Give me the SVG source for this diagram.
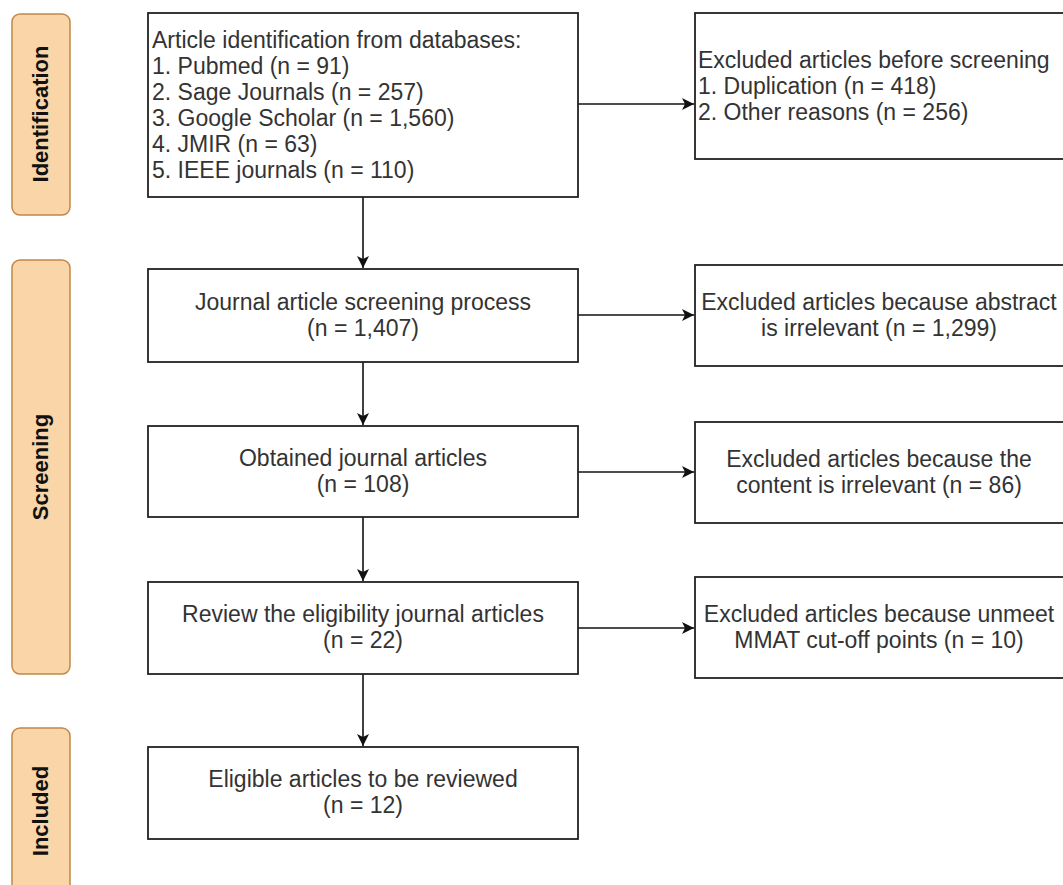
<svg xmlns="http://www.w3.org/2000/svg" width="1063" height="885" viewBox="0 0 1063 885">
<defs>
<style>
.pill{fill:#f9d5a7;stroke:#c0884a;stroke-width:1.5}
.pt{font-family:"Liberation Sans",Arial,sans-serif;font-weight:bold;font-size:22px;fill:#111;text-anchor:middle}
.box{fill:#fff;stroke:#222;stroke-width:1.8}
.t{font-family:"Liberation Sans",Arial,sans-serif;font-size:23px;fill:#333}
.c{text-anchor:middle}
.edge{fill:none;stroke:#111;stroke-width:1.6}
</style>
<marker id="arr" markerUnits="userSpaceOnUse" markerWidth="14" markerHeight="12" refX="12" refY="6" orient="auto">
<path d="M0,0 L12,6 L0,12 L3,6 Z" fill="#111"/>
</marker>
</defs>
<rect width="1063" height="885" fill="#fff"/>

<g id="lane-identification">
<rect class="pill" x="12" y="14" width="58" height="201" rx="8"/>
<text class="pt" transform="translate(48,114) rotate(-90)">Identification</text>
</g>
<g id="lane-screening">
<rect class="pill" x="12" y="260" width="58" height="414" rx="8"/>
<text class="pt" transform="translate(48,467) rotate(-90)">Screening</text>
</g>
<g id="lane-included">
<rect class="pill" x="12" y="728" width="58" height="175" rx="8"/>
<text class="pt" transform="translate(48,811) rotate(-90)">Included</text>
</g>

<g id="connectors">
<line class="edge" x1="363" y1="197" x2="363" y2="268" marker-end="url(#arr)"/>
<line class="edge" x1="363" y1="362" x2="363" y2="425" marker-end="url(#arr)"/>
<line class="edge" x1="363" y1="517" x2="363" y2="581" marker-end="url(#arr)"/>
<line class="edge" x1="363" y1="674" x2="363" y2="746" marker-end="url(#arr)"/>
<line class="edge" x1="578" y1="104" x2="694" y2="104" marker-end="url(#arr)"/>
<line class="edge" x1="578" y1="315" x2="694" y2="315" marker-end="url(#arr)"/>
<line class="edge" x1="578" y1="472" x2="694" y2="472" marker-end="url(#arr)"/>
<line class="edge" x1="578" y1="628" x2="694" y2="628" marker-end="url(#arr)"/>
</g>

<g id="n-identification">
<rect class="box" x="148" y="13" width="430" height="184"/>
<text class="t" x="152" y="48">Article identification from databases:</text>
<text class="t" x="152" y="74">1. Pubmed (n = 91)</text>
<text class="t" x="152" y="100">2. Sage Journals (n = 257)</text>
<text class="t" x="152" y="126">3. Google Scholar (n = 1,560)</text>
<text class="t" x="152" y="152">4. JMIR (n = 63)</text>
<text class="t" x="152" y="178">5. IEEE journals (n = 110)</text>
</g>
<g id="n-excluded-before">
<rect class="box" x="695" y="13" width="372" height="146"/>
<text class="t" x="698" y="68">Excluded articles before screening</text>
<text class="t" x="698" y="94">1. Duplication (n = 418)</text>
<text class="t" x="698" y="120">2. Other reasons (n = 256)</text>
</g>

<g id="n-screening">
<rect class="box" x="148" y="269" width="430" height="93"/>
<text class="t c" x="363" y="310">Journal article screening process</text>
<text class="t c" x="363" y="336">(n = 1,407)</text>
</g>
<g id="n-excluded-abstract">
<rect class="box" x="695" y="265" width="372" height="101"/>
<text class="t c" x="879" y="310">Excluded articles because abstract</text>
<text class="t c" x="879" y="336">is irrelevant (n = 1,299)</text>
</g>

<g id="n-obtained">
<rect class="box" x="148" y="426" width="430" height="91"/>
<text class="t c" x="363" y="466">Obtained journal articles</text>
<text class="t c" x="363" y="492">(n = 108)</text>
</g>
<g id="n-excluded-content">
<rect class="box" x="695" y="422" width="372" height="101"/>
<text class="t c" x="879" y="467">Excluded articles because the</text>
<text class="t c" x="879" y="493">content is irrelevant (n = 86)</text>
</g>

<g id="n-review">
<rect class="box" x="148" y="582" width="430" height="92"/>
<text class="t c" x="363" y="622">Review the eligibility journal articles</text>
<text class="t c" x="363" y="648">(n = 22)</text>
</g>
<g id="n-excluded-mmat">
<rect class="box" x="695" y="577" width="372" height="101"/>
<text class="t c" x="879" y="622">Excluded articles because unmeet</text>
<text class="t c" x="879" y="648">MMAT cut-off points (n = 10)</text>
</g>

<g id="n-eligible">
<rect class="box" x="148" y="747" width="430" height="92"/>
<text class="t c" x="363" y="787">Eligible articles to be reviewed</text>
<text class="t c" x="363" y="813">(n = 12)</text>
</g>
</svg>
